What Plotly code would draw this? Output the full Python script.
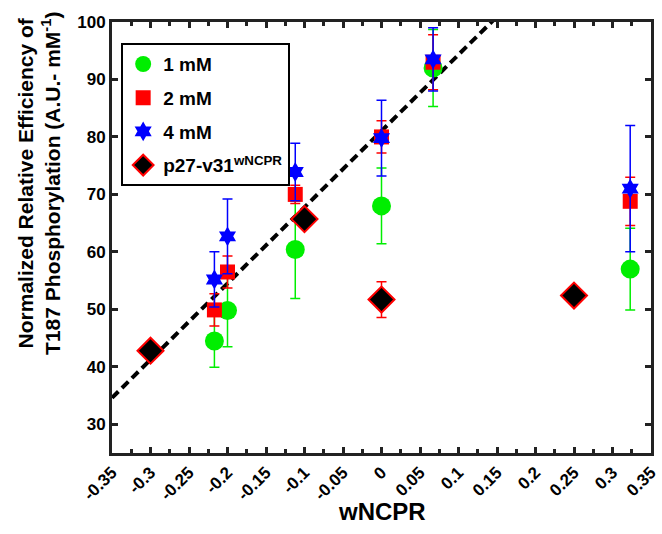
import plotly.graph_objects as go

# ---- data ----
x_groups = [-0.217, -0.2, -0.112, 0.0, 0.067, 0.323]

y_1mM = [44.5, 49.8, 60.4, 68.0, 92.0, 57.0]
e_1mM = [4.6, 6.3, 8.5, 6.6, 6.7, 7.1]

y_2mM = [49.9, 56.5, 70.0, 80.0, 93.0, 68.8]
e_2mM = [2.8, 2.8, 1.6, 2.8, 4.8, 4.2]

y_4mM = [55.2, 62.7, 73.9, 79.8, 93.5, 71.0]
e_4mM = [4.8, 6.5, 5.0, 6.6, 5.5, 11.0]

x_p27 = [-0.3, -0.1, 0.0, 0.25]
y_p27 = [42.8, 65.7, 51.7, 52.4]
e_p27 = [0.0, 0.0, 3.1, 0.0]

line_x = [-0.35, 0.15]
line_y = [34.6, 100.95]

x_ticks = [-0.35, -0.3, -0.25, -0.2, -0.15, -0.1, -0.05, 0, 0.05, 0.1, 0.15, 0.2, 0.25, 0.3, 0.35]
x_ticklabels = ["-0.35", "-0.3", "-0.25", "-0.2", "-0.15", "-0.1", "-0.05", "0", "0.05", "0.1",
                "0.15", "0.2", "0.25", "0.3", "0.35"]
y_ticks = [30, 40, 50, 60, 70, 80, 90, 100]

FONT = "Liberation Sans, Arial, sans-serif"

fig = go.Figure()

fig.add_trace(go.Scatter(
    x=line_x, y=line_y, mode="lines", showlegend=False,
    line=dict(color="black", width=4, dash="9px,5px"), hoverinfo="skip"))

def series(x, y, e, name, color, symbol, size, lcolor=None, lwidth=0):
    fig.add_trace(go.Scatter(
        x=x, y=y, mode="markers", name=name, legendgroup=name,
        marker=dict(color=color, symbol=symbol, size=size,
                    line=dict(color=lcolor or color, width=lwidth)),
        error_y=dict(type="data", array=e, visible=True, color=lcolor or color,
                     thickness=1.5, width=5)))

series(x_groups, y_1mM, e_1mM, "1 mM", "#00ee00", "circle", 19)
series(x_groups, y_2mM, e_2mM, "2 mM", "#ff0000", "square", 15)
series(x_groups, y_4mM, e_4mM, "4 mM", "#0000ff", "hexagram", 15)
series(x_p27, y_p27, e_p27, "p27-v31<sup>wNCPR</sup>", "black", "diamond", 20,
       lcolor="#ff0000", lwidth=2)

axis_common = dict(
    showline=True, linewidth=3, linecolor="#222222", mirror="ticks",
    ticks="inside", tickwidth=2.5, tickcolor="#222222",
    showgrid=False, zeroline=False, automargin=False,
)

fig.update_xaxes(
    range=[-0.35, 0.35], tickvals=x_ticks, ticktext=x_ticklabels, ticklen=6,
    tickangle=-45, tickfont=dict(family=FONT, size=17, color="black", weight="bold"),
    minor=dict(dtick=0.025, tick0=-0.35, ticks="inside", ticklen=4, tickwidth=2.5,
               tickcolor="#222222", showgrid=False),
    **axis_common)

fig.update_yaxes(
    range=[25, 100], tickvals=y_ticks, ticklen=6,
    tickfont=dict(family=FONT, size=17, color="black", weight="bold"),
    **axis_common)

fig.add_annotation(
    text="Normalized Relative Efficiency of<br>T187 Phosphorylation (A.U.- mM<sup>-1</sup>)",
    xref="paper", yref="paper", x=-0.136, y=0.626, xanchor="center", yanchor="middle",
    textangle=-90, showarrow=False,
    font=dict(family=FONT, size=21, color="black", weight="bold"))

fig.add_annotation(
    text="wNCPR", xref="paper", yref="paper", x=0.5, y=-0.136,
    xanchor="center", yanchor="middle", showarrow=False,
    font=dict(family=FONT, size=24, color="black", weight="bold"))

fig.update_layout(
    width=662, height=534,
    margin=dict(l=112, r=11, t=22, b=81),
    paper_bgcolor="white", plot_bgcolor="white",
    showlegend=True,
    legend=dict(x=0.017, y=0.951, xanchor="left", yanchor="top",
                bgcolor="white", bordercolor="black", borderwidth=2,
                tracegroupgap=6, traceorder="grouped",
                font=dict(family=FONT, size=19, color="black", weight="bold")),
)

fig.write_html("out.html", config={"displayModeBar": False},
               post_script="document.body.style.margin='0px';")
